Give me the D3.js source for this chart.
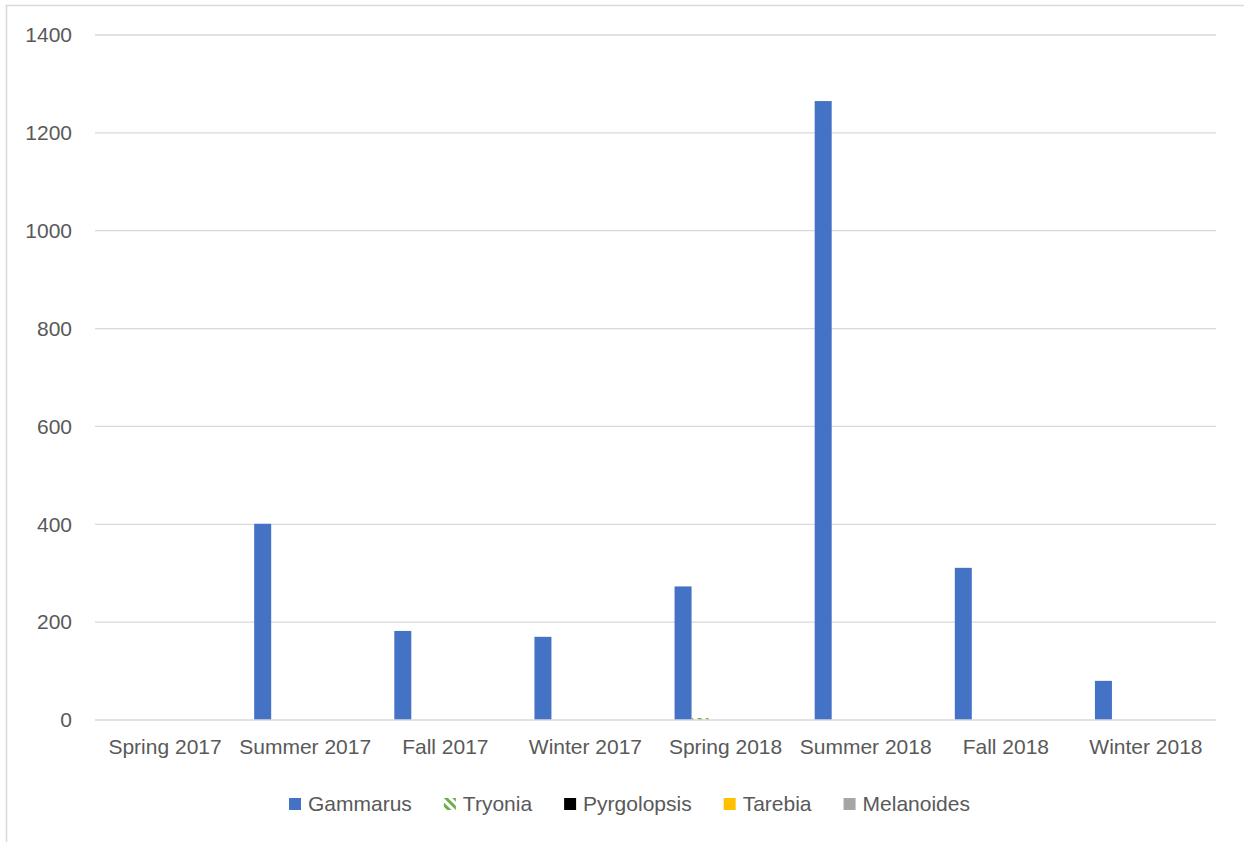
<!DOCTYPE html>
<html>
<head>
<meta charset="utf-8">
<script src="https://cdn.jsdelivr.net/npm/d3@7"></script>
<style>
  body { margin: 0; background: #fff; }
  text { font-family: "Liberation Sans", Arial, sans-serif; fill: #595959; }
</style>
</head>
<body>
<svg id="chart" width="1244" height="842"></svg>
<script>
// data
const seasons = ["Spring 2017", "Summer 2017", "Fall 2017", "Winter 2017",
                 "Spring 2018", "Summer 2018", "Fall 2018", "Winter 2018"];
const seriesNames = ["Gammarus", "Tryonia", "Pyrgolopsis", "Tarebia", "Melanoides"];
const gammarus    = [0, 401, 182, 170, 273, 1265, 311, 80];
const tryonia     = [0, 0, 0, 0, 4, 0, 0, 0];
const pyrgolopsis = [0, 0, 0, 0, 0, 0, 0, 0];
const tarebia     = [0, 0, 0, 0, 0, 0, 0, 0];
const melanoides  = [0, 0, 0, 0, 0, 0, 0, 0];
const yTicks = [0, 200, 400, 600, 800, 1000, 1200, 1400];

const values = [gammarus, tryonia, pyrgolopsis, tarebia, melanoides];
const colors = ["#4472c4", "url(#hatch)", "#000000", "#ffc000", "#a5a5a5"];

const svg = d3.select("#chart");
const fontSize = "21px";

// outer chart border (runs off right/bottom edge)
svg.append("rect")
  .attr("x", 6.5).attr("y", 5.5)
  .attr("width", 1260).attr("height", 860)
  .attr("fill", "none").attr("stroke", "#d9d9d9").attr("stroke-width", 1.5);

const defs = svg.append("defs");
const pat = defs.append("pattern")
  .attr("id", "hatch")
  .attr("patternUnits", "userSpaceOnUse")
  .attr("width", 6).attr("height", 6)
  .attr("patternTransform", "rotate(-45)");
pat.append("rect").attr("width", 3).attr("height", 6).attr("fill", "#70ad47");

const plotLeft = 95, plotRight = 1216, plotTop = 35, plotBottom = 720;

let y = d3.scaleLinear().domain([0, 1400]).range([plotBottom, plotTop]);

let x0 = d3.scaleBand()
  .domain(seasons)
  .range([plotLeft, plotRight])
  .paddingInner(0.272)
  .paddingOuter(0.136);

// six slots per group, the last one stays empty
let x1 = d3.scaleBand()
  .domain(seriesNames.concat(["_"]))
  .range([0, x0.bandwidth()]);

// gridlines
svg.append("g")
  .selectAll("line")
  .data(yTicks.filter(d => d > 0)).enter()
  .append("line")
  .attr("x1", plotLeft).attr("x2", plotRight)
  .attr("y1", d => y(d)).attr("y2", d => y(d))
  .attr("stroke", "#d9d9d9").attr("stroke-width", 1.3);

// y labels
let yAxis = d3.axisLeft(y).tickValues(yTicks).tickFormat(d3.format("d")).tickSize(0).tickPadding(0);
let ya = svg.append("g").attr("transform", "translate(72,0)").call(yAxis);
ya.select(".domain").remove();
ya.selectAll("text")
  .style("font-family", '"Liberation Sans", Arial, sans-serif')
  .style("font-size", fontSize).style("fill", "#595959");

// bars
let groups = svg.append("g")
  .selectAll("g")
  .data(seasons).enter()
  .append("g")
  .attr("transform", d => "translate(" + x0(d) + ",0)");

groups.selectAll("rect")
  .data((d, i) => seriesNames.map((s, k) => ({ s: s, v: values[k][i], c: colors[k] })))
  .enter()
  .append("rect")
  .attr("x", d => x1(d.s))
  .attr("width", x1.bandwidth())
  .attr("y", d => y(d.v))
  .attr("height", d => y(0) - y(d.v))
  .attr("fill", d => d.c);

// baseline
svg.append("line")
  .attr("x1", plotLeft).attr("x2", plotRight)
  .attr("y1", plotBottom).attr("y2", plotBottom)
  .attr("stroke", "#d9d9d9").attr("stroke-width", 1.5);

// x labels
let xAxis = d3.axisBottom(x0).tickSize(0).tickPadding(0);
let xa = svg.append("g").attr("transform", "translate(0,739)").call(xAxis);
xa.select(".domain").remove();
xa.selectAll("text")
  .attr("dy", "0.71em")
  .style("font-family", '"Liberation Sans", Arial, sans-serif')
  .style("font-size", fontSize).style("fill", "#595959");

// legend
let legend = svg.append("g").attr("transform", "translate(0,804)");
let lx = 289;
seriesNames.forEach((s, k) => {
  legend.append("rect")
    .attr("x", lx).attr("y", -6)
    .attr("width", 12).attr("height", 12)
    .attr("fill", colors[k]);
  let t = legend.append("text")
    .attr("x", lx + 19).attr("y", 0).attr("dy", "0.35em")
    .style("font-size", fontSize)
    .text(s);
  lx += 19 + t.node().getComputedTextLength() + 32;
});
</script>
</body>
</html>
